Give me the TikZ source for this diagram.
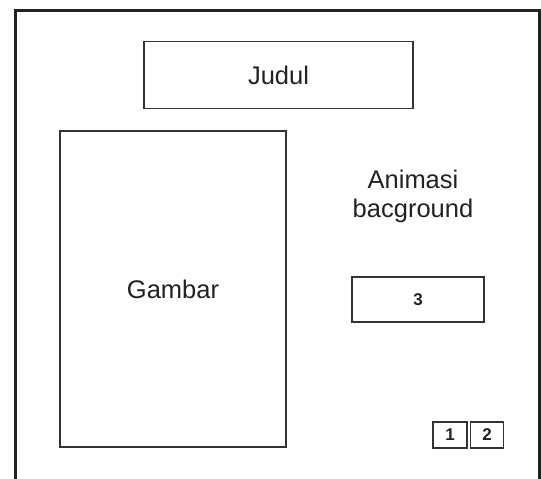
\documentclass[tikz,border=0pt]{standalone}
\usepackage{fontspec}
\setmainfont{Liberation Sans}
\definecolor{edge}{HTML}{333333}
\definecolor{ink}{HTML}{222222}
\begin{document}
\begin{tikzpicture}[x=1pt,y=-1pt,
  box/.style={draw=edge,line width=1.6pt,rectangle,inner sep=0pt,text=ink},
  bigtext/.style={font=\fontsize{25.5}{29}\selectfont},
  smalltext/.style={font=\fontsize{17}{19}\selectfont\bfseries}]
\useasboundingbox (0,0) rectangle (541,479);
\fill[white] (0,0) rectangle (541,479);
% outer frame (open at the bottom)
\coordinate (fbl) at (15,479);
\coordinate (ftl) at (15,10);
\coordinate (ftr) at (539,10);
\coordinate (fbr) at (539,479);
\draw[line width=3pt,color=ink,line join=miter] (fbl) -- (ftl) -- (ftr) -- (fbr);
% boxes
\node[box,bigtext,minimum width=269pt,minimum height=67pt] (judul) at (278.5,75) {Judul};
\node[box,bigtext,minimum width=226pt,minimum height=316pt] (gambar) at (173,289) {Gambar};
\node[text=ink,bigtext,align=center,inner sep=0pt] (anim) at (413,196.5) {Animasi\\bacground};
\node[box,smalltext,minimum width=132pt,minimum height=45pt] (tiga) at (418,299.5) {3};
\node[box,smalltext,minimum width=34pt,minimum height=26pt] (satu) at (450,435) {1};
\node[box,smalltext,minimum width=33pt,minimum height=26pt] (dua) at (487,435) {2};
\end{tikzpicture}
\end{document}
